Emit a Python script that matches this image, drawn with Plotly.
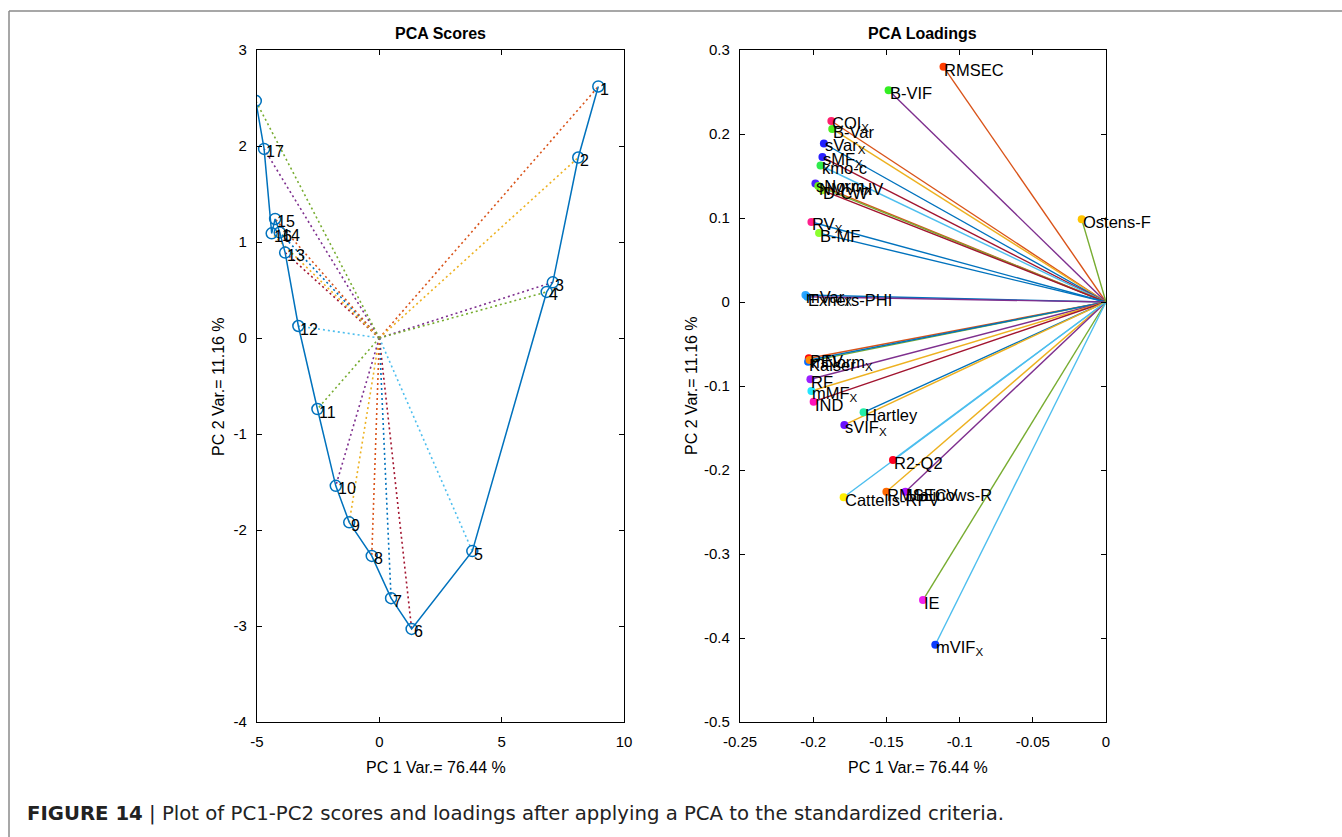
import plotly.graph_objects as go

# ---------------- data ----------------
# PCA scores (PC1, PC2) for the 18 samples
score_ids = [str(i) for i in range(1, 19)]
score_pc1 = [8.95, 8.13, 7.09, 6.84, 3.80, 1.32, 0.48, -0.31, -1.23, -1.78,
             -2.53, -3.31, -3.85, -4.07, -4.26, -4.40, -4.71, -5.05]
score_pc2 = [2.62, 1.88, 0.58, 0.48, -2.22, -3.03, -2.71, -2.27, -1.92, -1.54,
             -0.74, 0.125, 0.89, 1.10, 1.24, 1.09, 1.97, 2.47]

# PCA loadings (PC1, PC2) of the criteria
load_names = ["RMSEC", "B-VIF", "COI<sub>X</sub>", "B-Var", "sVar<sub>X</sub>",
              "sMF<sub>X</sub>", "kmo-c", "sNorm<sub>X</sub>", "NMV-HV", "D-CW",
              "RV<sub>X</sub>", "B-MF", "mVar<sub>X</sub>", "Exners-PHI",
              "PEV", "Kaiser", "mNorm<sub>X</sub>", "RF", "mMF<sub>X</sub>", "IND",
              "Hartley", "sVIF<sub>X</sub>", "R2-Q2", "RMSECV", "Malinows-R",
              "Cattells-RPV", "IE", "mVIF<sub>X</sub>", "Ostens-F"]
load_pc1 = [-0.111, -0.1485, -0.1876, -0.187, -0.1927,
            -0.1937, -0.195, -0.1985, -0.1965, -0.1937,
            -0.2012, -0.196, -0.2053, -0.2040,
            -0.2030, -0.2035, -0.2025, -0.2019, -0.2012, -0.1997,
            -0.1656, -0.1787, -0.1455, -0.150, -0.137,
            -0.1792, -0.125, -0.1166, -0.0166]
load_pc2 = [0.280, 0.252, 0.2155, 0.206, 0.1887,
            0.1726, 0.1625, 0.141, 0.138, 0.133,
            0.0952, 0.082, 0.0083, 0.0063,
            -0.067, -0.071, -0.069, -0.092, -0.106, -0.1187,
            -0.1313, -0.1464, -0.188, -0.2258, -0.226,
            -0.2325, -0.3548, -0.408, 0.0984]

# ---------------- styles ----------------
MATLAB = ["#0072BD", "#D95319", "#EDB120", "#7E2F8E", "#77AC30", "#4DBEEE", "#A2142F"]
# vector colour (index into MATLAB order) and marker colour for each loading
vec_idx = [1, 3, 1, 2, 0, 6, 5, 1, 4, 6, 0, 0, 0, 3, 1, 4, 0, 3, 2, 6,
           0, 2, 5, 2, 3, 5, 4, 5, 4]
dot_cols = ["#FF3D00", "#33EE22", "#FF1F6E", "#4CEB1F", "#1F1FFF", "#2A1FFF", "#2EEB4C",
            "#4A1FFF", "#66EE22", "#A0EE22", "#FF1F8E", "#8CFF2E", "#2EA8FF", "#1F9EFF",
            "#FF0A0A", "#0A6EFF", "#FF8800", "#9B1FFF", "#22E6FF", "#FF11BB", "#22EEAA",
            "#6A11FF", "#FF0022", "#FF6A00", "#AA11FF", "#FFEE00", "#EE22EE", "#0A3CFF",
            "#FFC400"]

FONT = "Liberation Sans, Arial, Helvetica, sans-serif"
CAPTION_FONT = "DejaVu Sans, Open Sans, sans-serif"
W, H = 1342, 837

fig = go.Figure()

# ---- scores panel: dotted rays from the origin, then the joined scores ----
for i in range(len(score_pc1)):
    fig.add_trace(go.Scatter(
        x=[0, score_pc1[i]], y=[0, score_pc2[i]], mode="lines",
        line=dict(color=MATLAB[(1 + i) % 7], width=1.6, dash="2px,3px"),
        xaxis="x", yaxis="y", showlegend=False, hoverinfo="skip"))
fig.add_trace(go.Scatter(
    x=score_pc1, y=score_pc2, mode="lines+markers",
    line=dict(color="#0072BD", width=1.5),
    marker=dict(symbol="circle-open", size=11, color="#0072BD", line=dict(width=1.5)),
    xaxis="x", yaxis="y", showlegend=False))

# ---- loadings panel: vectors from the origin plus coloured tips ----
for i in range(len(load_pc1)):
    fig.add_trace(go.Scatter(
        x=[0, load_pc1[i]], y=[0, load_pc2[i]], mode="lines",
        line=dict(color=MATLAB[vec_idx[i]], width=1.4),
        xaxis="x2", yaxis="y2", showlegend=False, hoverinfo="skip"))
fig.add_trace(go.Scatter(
    x=load_pc1, y=load_pc2, mode="markers",
    marker=dict(size=8, color=dot_cols),
    xaxis="x2", yaxis="y2", showlegend=False))

annotations = []
for lab, xv, yv in zip(score_ids, score_pc1, score_pc2):
    annotations.append(dict(x=xv, y=yv, xref="x", yref="y", text=lab, showarrow=False,
                            xanchor="left", yanchor="middle", xshift=0, yshift=-3,
                            font=dict(family=FONT, size=16, color="black")))
for lab, xv, yv in zip(load_names, load_pc1, load_pc2):
    annotations.append(dict(x=xv, y=yv, xref="x2", yref="y2", text=lab, showarrow=False,
                            xanchor="left", yanchor="middle", xshift=-1, yshift=-3,
                            font=dict(family=FONT, size=16.5, color="black")))

# panel titles and axis titles
ytop, ybot = 1 - 50 / H, 1 - 722 / H
lx0, lx1 = 257 / W, 624 / W
rx0, rx1 = 740 / W, 1106 / W
for x0, x1, title in [(lx0, lx1, "PCA Scores"), (rx0, rx1, "PCA Loadings")]:
    annotations.append(dict(x=(x0 + x1) / 2, y=1 - 34 / H, xref="paper", yref="paper",
                            xanchor="center", yanchor="middle",
                            text="<b>" + title + "</b>", showarrow=False,
                            font=dict(family=FONT, size=16, color="black")))
    annotations.append(dict(x=(x0 + x1) / 2 - 5 / W, y=1 - 767 / H, xref="paper", yref="paper",
                            xanchor="center", yanchor="middle",
                            text="PC 1 Var.= 76.44 %", showarrow=False,
                            font=dict(family=FONT, size=16, color="black")))
for xc in [218, 691]:
    annotations.append(dict(x=xc / W, y=1 - 386 / H, xref="paper", yref="paper",
                            xanchor="center", yanchor="middle",
                            text="PC 2 Var.= 11.16 %", showarrow=False, textangle=-90,
                            font=dict(family=FONT, size=16, color="black")))
annotations.append(dict(x=25 / W, y=1 - 813 / H, xref="paper", yref="paper",
                        xanchor="left", yanchor="middle", showarrow=False,
                        text="<b>FIGURE 14</b> | Plot of PC1-PC2 scores and loadings after applying a PCA to the standardized criteria.",
                        font=dict(family=CAPTION_FONT, size=19.7, color="#222222")))


def axis(domain, rng, vals, texts):
    return dict(domain=domain, range=rng, tickvals=vals, ticktext=texts,
                ticks="inside", ticklen=5, tickwidth=1, tickcolor="black",
                showline=True, linecolor="black", linewidth=1.2, mirror="allticks",
                showgrid=False, zeroline=False, ticklabelstandoff=6, automargin=False,
                tickfont=dict(family=FONT, size=15, color="black"))


sx_vals = [-5, 0, 5, 10]
sy_vals = [-4, -3, -2, -1, 0, 1, 2, 3]
lx_vals = [-0.25, -0.2, -0.15, -0.1, -0.05, 0]
ly_vals = [-0.5, -0.4, -0.3, -0.2, -0.1, 0, 0.1, 0.2, 0.3]


def fmt(v):
    return "%g" % v


fig.update_layout(
    width=W, height=H, margin=dict(l=0, r=0, t=0, b=0, pad=0, autoexpand=False),
    paper_bgcolor="white", plot_bgcolor="white",
    xaxis=dict(axis([lx0, lx1], [-5, 10], sx_vals, [fmt(v) for v in sx_vals]), anchor="y"),
    yaxis=dict(axis([ybot, ytop], [-4, 3], sy_vals, [fmt(v) for v in sy_vals]), anchor="x"),
    xaxis2=dict(axis([rx0, rx1], [-0.25, 0], lx_vals, [fmt(v) for v in lx_vals]), anchor="y2"),
    yaxis2=dict(axis([ybot, ytop], [-0.5, 0.3], ly_vals, [fmt(v) for v in ly_vals]), anchor="x2"),
    annotations=annotations,
    shapes=[
        dict(type="line", xref="paper", yref="paper", x0=9 / W, x1=1, y0=1 - 11 / H, y1=1 - 11 / H,
             line=dict(color="#8a8a8a", width=1.5)),
        dict(type="line", xref="paper", yref="paper", x0=9 / W, x1=9 / W, y0=0, y1=1 - 11 / H,
             line=dict(color="#8a8a8a", width=1.5)),
    ],
)

page_js = ("document.body.style.margin='0';"
           "document.body.style.overflow='hidden';"
           "document.documentElement.style.overflow='hidden';")
fig.write_html("out.html", post_script=page_js)
